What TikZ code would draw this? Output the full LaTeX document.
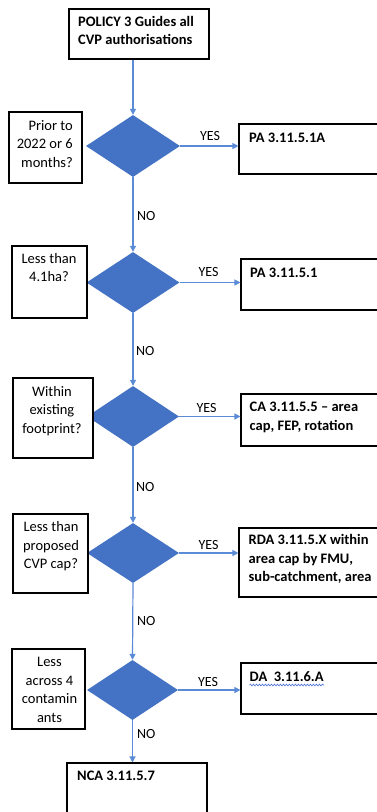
\documentclass[tikz,border=0pt]{standalone}
\usepackage{fontspec}
\setmainfont{Carlito}
\usetikzlibrary{shapes.geometric,arrows.meta,decorations.pathmorphing}
\definecolor{dblue}{HTML}{4472C4}
\definecolor{ablue}{HTML}{5B8BD6}
\definecolor{sqblue}{HTML}{4A6FD8}
\begin{document}
\begin{tikzpicture}[x=1pt,y=-1pt,
  box/.style={draw=black,line width=1.1pt,fill=white,rectangle,inner sep=0pt},
  dec/.style={diamond,fill=dblue,draw=none,inner sep=0pt},
  arr/.style={draw=ablue,line width=1.2pt,-{Triangle[length=6pt,width=6pt]}},
  txt/.style={inner sep=0pt,font=\fontsize{14.5}{18.5}\selectfont},
  btxt/.style={inner sep=0pt,font=\fontsize{14.5}{18.5}\selectfont\bfseries},
  lab/.style={inner sep=0pt,font=\fontsize{14}{17}\selectfont}]
\clip (0,0) rectangle (377,812);
\fill[white] (0,0) rectangle (377,812);
% decisions
\node[dec,minimum width=94pt,minimum height=62pt] (d1) at (133,146) {};
\node[dec,minimum width=93pt,minimum height=61pt] (d2) at (133,282.5) {};
\node[dec,minimum width=92pt,minimum height=61pt] (d3) at (133,416.5) {};
\node[dec,minimum width=92pt,minimum height=60pt] (d4) at (133,553) {};
\node[dec,minimum width=91pt,minimum height=60pt] (d5) at (132.5,690) {};
% boxes
\node[box,minimum width=140pt,minimum height=50pt] (start) at (139,34) {};
\node[box,minimum width=73pt,minimum height=71pt] (q1) at (45.5,147.5) {};
\node[box,minimum width=145pt,minimum height=50pt] (r1) at (311.5,149) {};
\node[box,minimum width=75pt,minimum height=72pt] (q2) at (49.5,282) {};
\node[box,minimum width=143pt,minimum height=51pt] (r2) at (312.5,284.5) {};
\node[box,minimum width=80pt,minimum height=80pt] (q3) at (53,418) {};
\node[box,minimum width=143pt,minimum height=52pt] (r3) at (312.5,420) {};
\node[box,minimum width=75pt,minimum height=79pt] (q4) at (50.5,553.5) {};
\node[box,minimum width=145pt,minimum height=69pt] (r4) at (311.5,562.5) {};
\node[box,minimum width=73pt,minimum height=80pt] (q5) at (48.5,689) {};
\node[box,minimum width=143pt,minimum height=51pt] (r5) at (312.5,688.5) {};
\node[box,minimum width=140pt,minimum height=67pt] (nca) at (137,796.5) {};
% texts (multi-line nodes anchored at the baseline of their last line)
\node[btxt,anchor=base west,align=left] (t0) at (78,44.5) {POLICY 3 Guides all\\CVP authorisations};
\node[txt,anchor=base east,align=right] (tq1) at (73,167) {Prior to\\2022 or 6\\months?};
\node[btxt,anchor=base west] (tr1) at (249,142) {PA 3.11.5.1A};
\node[txt,anchor=base,align=center] (tq2) at (49,281.5) {Less than\\4.1ha?};
\node[btxt,anchor=base west] (tr2) at (250,277) {PA 3.11.5.1};
\node[txt,anchor=base,align=center] (tq3) at (52,433) {Within\\existing\\footprint?};
\node[btxt,anchor=base west,align=left] (tr3) at (249.5,430) {CA 3.11.5.5 – area\\cap, FEP, rotation};
\node[txt,anchor=base,align=center] (tq4) at (51,568.5) {Less than\\proposed\\CVP cap?};
\node[btxt,anchor=base west,align=left] (tr4) at (248.5,581.5) {RDA 3.11.5.X within\\area cap by FMU,\\sub-catchment, area};
\node[txt,anchor=base,align=center] (tq5) at (49.5,722) {Less\\across 4\\contamin\\ants};
\node[btxt,anchor=base west] (tr5) at (249.5,681.5) {DA\ \ 3.11.6.A};
\draw[sqblue,line width=0.6pt,decorate,decoration={snake,amplitude=0.9pt,segment length=3pt}] ([yshift=-3.5pt]tr5.base west) -- ([yshift=-3.5pt]tr5.base east);
\node[btxt,anchor=base west] (tn) at (77,780) {NCA 3.11.5.7};
% connectors
\draw[arr] (d1.north |- start.south) -- (d1.north);
\draw[arr] (d1.south) -- (d2.north);
\draw[arr] (d2.south) -- (d3.north);
\draw[arr] (d3.south) -- (d4.north);
\draw[arr] (d4.south) -- (d5.north);
\draw[arr] (d5.south) -- (d5.south |- nca.north);
\draw[arr] (d1.east) -- (d1.east -| r1.west);
\draw[arr] (d2.east) -- (d2.east -| r2.west);
\draw[arr] (d3.east) -- (d3.east -| r3.west);
\draw[arr] (d4.east) -- (d4.east -| r4.west);
\draw[arr] (d5.east) -- (d5.east -| r5.west);
% labels
\node[lab,anchor=base] (y1) at (210,140) {YES};
\node[lab,anchor=base] (y2) at (208.5,276) {YES};
\node[lab,anchor=base] (y3) at (206.5,412.5) {YES};
\node[lab,anchor=base] (y4) at (208.5,549) {YES};
\node[lab,anchor=base] (y5) at (208,686) {YES};
\node[lab,anchor=base west] (n1) at (137,220) {NO};
\node[lab,anchor=base west] (n2) at (136,355) {NO};
\node[lab,anchor=base west] (n3) at (136,491.5) {NO};
\node[lab,anchor=base west] (n4) at (137,625) {NO};
\node[lab,anchor=base west] (n5) at (137,738) {NO};
\end{tikzpicture}
\end{document}
